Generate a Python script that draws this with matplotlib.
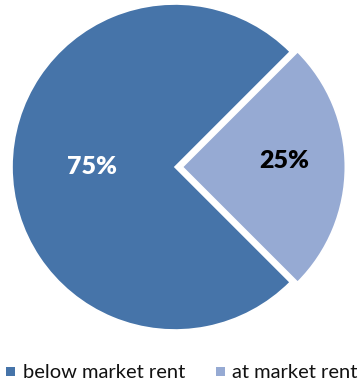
import matplotlib
matplotlib.use("Agg")
import matplotlib.pyplot as plt
from matplotlib.patches import Rectangle

categories = ["below market rent", "at market rent"]
values = [75, 25]
colors = ["#4674A9", "#96AAD3"]
label_colors = ["white", "black"]

W, H = 362, 382
fig = plt.figure(figsize=(W / 100, H / 100), dpi=100)
ax = fig.add_axes([0, 0, 1, 1])
R = 163.0
cx, cy_top = 175.0, 167.0
cy = H - cy_top

wedges, texts, autotexts = ax.pie(
    values, colors=colors, startangle=45, counterclock=True,
    explode=[0, 0.045], radius=1.0, autopct="%d%%",
    wedgeprops=dict(edgecolor="white", linewidth=1.2),
    textprops=dict(fontsize=18, fontweight="heavy", family="Lato"),
    frame=True,
)
ax.set_xlim(-cx / R, (W - cx) / R)
ax.set_ylim(-cy / R, (H - cy) / R)
ax.set_aspect("equal")
ax.axis("off")

pos = [(-0.509, 0.0), (0.669, 0.037)]
for t, c, p in zip(autotexts, label_colors, pos):
    t.set_color(c)
    t.set_position(p)
    t.set_ha("center")
    t.set_va("center")

# legend drawn in figure pixel coordinates
fig.canvas.draw()
renderer = fig.canvas.get_renderer()
leg_y = H - 371
marker_x = [6, 216]
text_x = [23, 232]
target_w = 162.0
fs = 12
probe = fig.text(0, 0, categories[0], fontsize=fs, family="Lato")
w = probe.get_window_extent(renderer).width
probe.remove()
fs = fs * target_w / w
for c, lab, mx, tx in zip(colors, categories, marker_x, text_x):
    fig.patches.append(Rectangle((mx / W, (leg_y - 4.5) / H), 9 / W, 9 / H,
                                 transform=fig.transFigure, facecolor=c,
                                 edgecolor="none", figure=fig))
    fig.text(tx / W, leg_y / H, lab, fontsize=fs, family="Lato",
             ha="left", va="center_baseline", color="#111111")

fig.savefig("out.png", dpi=100)
